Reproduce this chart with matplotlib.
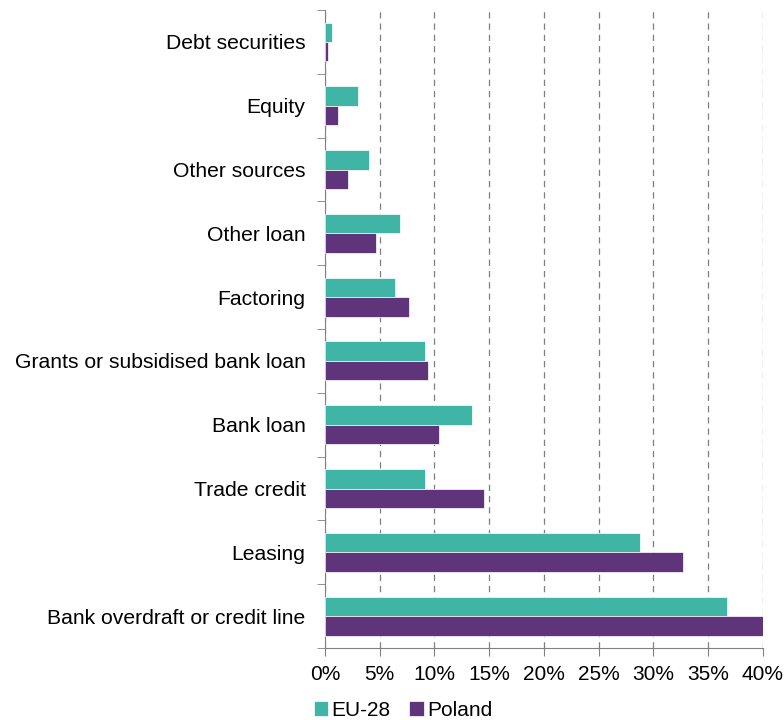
import numpy as np
import matplotlib.pyplot as plt
from matplotlib.ticker import FixedLocator, PercentFormatter

plt.rcParams['font.family'] = ['Liberation Sans', 'DejaVu Sans']

categories = ["Bank overdraft or credit line", "Leasing", "Trade credit", "Bank loan",
              "Grants or subsidised bank loan", "Factoring", "Other loan",
              "Other sources", "Equity", "Debt securities"]
eu28 = [36.7, 28.8, 9.1, 13.4, 9.1, 6.4, 6.9, 4.0, 3.0, 0.6]
poland = [40.0, 32.7, 14.5, 10.4, 9.4, 7.7, 4.7, 2.1, 1.2, 0.3]

teal = "#40B5A6"
purple = "#5F347A"

fig = plt.figure(figsize=(7.84, 7.2), dpi=100)
ax = fig.add_axes([0.4145, 0.1, 0.5585, 0.886])

y = np.arange(len(categories))
h = 0.305
ax.barh(y + h/2, eu28, h, color=teal, edgecolor="white", linewidth=0.5, label="EU-28", zorder=3)
ax.barh(y - h/2, poland, h, color=purple, edgecolor="white", linewidth=0.5, label="Poland", zorder=3)

ax.set_ylim(-0.5, len(categories) - 0.5)
ax.set_xlim(0, 40)
ax.set_yticks(y)
ax.set_yticklabels(categories, fontsize=15.2)
ax.tick_params(axis="y", length=0, pad=14)
ax.yaxis.set_minor_locator(FixedLocator(np.arange(-0.5, len(categories), 1)))
ax.tick_params(axis="y", which="minor", length=6, color="#808080", direction="out")

ax.set_xticks(np.arange(0, 41, 5))
ax.xaxis.set_major_formatter(PercentFormatter(decimals=0))
ax.tick_params(axis="x", labelsize=15, length=6, color="#808080", pad=6)
ax.grid(axis="x", linestyle=(0, (5, 4)), color="#7f7f7f", linewidth=0.9, zorder=0)

for s in ["top", "right"]:
    ax.spines[s].set_visible(False)
for s in ["left", "bottom"]:
    ax.spines[s].set_color("#808080")

handles, labels = ax.get_legend_handles_labels()
fig.legend(handles, labels, loc="center", bbox_to_anchor=(0.514, 0.0135), ncol=2,
           frameon=False, fontsize=15, handlelength=0.7, handleheight=0.7,
           handletextpad=0.15, columnspacing=0.9, borderpad=0)

plt.savefig("out.png", dpi=100)
